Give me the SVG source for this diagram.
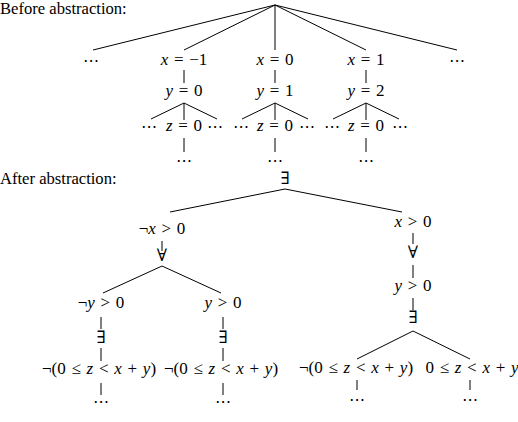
<svg xmlns="http://www.w3.org/2000/svg" width="518" height="422" viewBox="0 0 518 422">
<style>
.t{font-family:"Liberation Serif","DejaVu Serif",serif;font-size:17px;fill:#000;text-anchor:middle;word-spacing:1.5px}
.h{text-anchor:start;word-spacing:0;font-size:16.6px}
.i{font-style:italic}
.d{font-family:"DejaVu Sans",sans-serif;font-size:16px;fill:#000;text-anchor:middle}
.e line{stroke:#000;stroke-width:1}
</style>
<rect width="518" height="422" fill="#fff"/>
<g id="connectors" class="e">
<line x1="275" y1="5" x2="93" y2="50"/>
<line x1="275" y1="5" x2="184" y2="50"/>
<line x1="275" y1="5" x2="275" y2="50"/>
<line x1="275" y1="5" x2="366" y2="50"/>
<line x1="275" y1="5" x2="457" y2="50"/>
<line x1="184" y1="70" x2="184" y2="83"/>
<line x1="275" y1="70" x2="275" y2="83"/>
<line x1="366" y1="70" x2="366" y2="83"/>
<line x1="184" y1="103" x2="151" y2="119"/><line x1="184" y1="103" x2="184" y2="120"/><line x1="184" y1="103" x2="217" y2="119"/>
<line x1="275" y1="103" x2="242" y2="119"/><line x1="275" y1="103" x2="275" y2="120"/><line x1="275" y1="103" x2="308" y2="119"/>
<line x1="366" y1="103" x2="333" y2="119"/><line x1="366" y1="103" x2="366" y2="120"/><line x1="366" y1="103" x2="399" y2="119"/>
<line x1="184" y1="138" x2="184" y2="152"/>
<line x1="275" y1="138" x2="275" y2="152"/>
<line x1="366" y1="138" x2="366" y2="152"/>
<line x1="285" y1="189" x2="170" y2="212"/>
<line x1="285" y1="189" x2="402" y2="212"/>
<line x1="162" y1="241" x2="162" y2="251"/>
<line x1="162" y1="266" x2="103" y2="293"/>
<line x1="162" y1="266" x2="221" y2="293"/>
<line x1="413" y1="233" x2="413" y2="244"/>
<line x1="413" y1="265" x2="413" y2="278"/>
<line x1="101" y1="317" x2="101" y2="329"/>
<line x1="101" y1="348" x2="101" y2="361"/>
<line x1="101" y1="383" x2="101" y2="395"/>
<line x1="223" y1="317" x2="223" y2="329"/>
<line x1="223" y1="348" x2="223" y2="361"/>
<line x1="223" y1="383" x2="223" y2="395"/>
<line x1="413" y1="298" x2="413" y2="310"/>
<line x1="413" y1="331" x2="357" y2="359"/>
<line x1="413" y1="331" x2="470" y2="359"/>
<line x1="357" y1="380" x2="357" y2="390"/>
<line x1="470" y1="380" x2="470" y2="390"/>
</g>
<g id="label-before"><text class="t h" x="0" y="14">Before abstraction:</text></g>
<g id="dots-left"><text class="d" x="91" y="66">⋯</text></g>
<g id="x-m1"><text class="t" x="184" y="65"><tspan class="i">x</tspan> = −1</text></g>
<g id="x-0"><text class="t" x="275" y="65"><tspan class="i">x</tspan> = 0</text></g>
<g id="x-1"><text class="t" x="366" y="65"><tspan class="i">x</tspan> = 1</text></g>
<g id="dots-right"><text class="d" x="457" y="66">⋯</text></g>
<g id="y-0"><text class="t" x="184" y="96"><tspan class="i">y</tspan> = 0</text></g>
<g id="y-1"><text class="t" x="275" y="96"><tspan class="i">y</tspan> = 1</text></g>
<g id="y-2"><text class="t" x="366" y="96"><tspan class="i">y</tspan> = 2</text></g>
<g id="z-a"><text class="d" x="149" y="132">⋯</text><text class="t" x="184" y="131"><tspan class="i">z</tspan> = 0</text><text class="d" x="215" y="132">⋯</text><text class="d" x="184" y="166">⋯</text></g>
<g id="z-b"><text class="d" x="241" y="132">⋯</text><text class="t" x="275" y="131"><tspan class="i">z</tspan> = 0</text><text class="d" x="307" y="132">⋯</text><text class="d" x="275" y="166">⋯</text></g>
<g id="z-c"><text class="d" x="332" y="132">⋯</text><text class="t" x="366" y="131"><tspan class="i">z</tspan> = 0</text><text class="d" x="400" y="132">⋯</text><text class="d" x="366" y="166">⋯</text></g>
<g id="label-after"><text class="t h" x="0" y="184">After abstraction:</text></g>
<g id="exists-root"><text class="t" x="285" y="184">∃</text></g>
<g id="not-x"><text class="t" x="162" y="234">¬<tspan class="i">x</tspan> &gt; 0</text></g>
<g id="forall-l"><text class="t" x="162" y="261">∀</text></g>
<g id="not-y"><text class="t" x="101" y="308">¬<tspan class="i">y</tspan> &gt; 0</text></g>
<g id="exists-l1"><text class="t" x="101" y="343">∃</text></g>
<g id="f-l1"><text class="t" x="99" y="374">¬(0 ≤ <tspan class="i">z</tspan> &lt; <tspan class="i">x</tspan> + <tspan class="i">y</tspan>)</text><text class="d" x="101" y="407">⋯</text></g>
<g id="y-pos-l"><text class="t" x="223" y="308"><tspan class="i">y</tspan> &gt; 0</text></g>
<g id="exists-l2"><text class="t" x="223" y="343">∃</text></g>
<g id="f-l2"><text class="t" x="221" y="374">¬(0 ≤ <tspan class="i">z</tspan> &lt; <tspan class="i">x</tspan> + <tspan class="i">y</tspan>)</text><text class="d" x="223" y="407">⋯</text></g>
<g id="x-pos"><text class="t" x="413" y="227"><tspan class="i">x</tspan> &gt; 0</text></g>
<g id="forall-r"><text class="t" x="413" y="258">∀</text></g>
<g id="y-pos-r"><text class="t" x="413" y="291"><tspan class="i">y</tspan> &gt; 0</text></g>
<g id="exists-r"><text class="t" x="413" y="323">∃</text></g>
<g id="f-r1"><text class="t" x="356" y="373">¬(0 ≤ <tspan class="i">z</tspan> &lt; <tspan class="i">x</tspan> + <tspan class="i">y</tspan>)</text><text class="d" x="357" y="405">⋯</text></g>
<g id="f-r2"><text class="t" x="472" y="373">0 ≤ <tspan class="i">z</tspan> &lt; <tspan class="i">x</tspan> + <tspan class="i">y</tspan></text><text class="d" x="470" y="405">⋯</text></g>
</svg>
